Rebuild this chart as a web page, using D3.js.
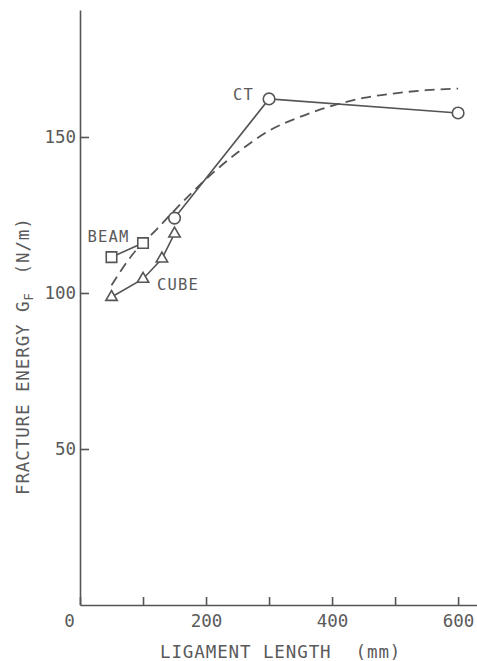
<!DOCTYPE html>
<meta charset="utf-8">
<style>
body { margin: 0; background: #fff; }
svg text { font-family: "DejaVu Sans Mono", monospace; fill: #5a5a5a; }
.axis path, .axis line { fill: none; stroke: #555; stroke-width: 1.6; }
.axis text { font-size: 17.5px; }
.series { fill: none; stroke: #555; stroke-width: 1.6; }
.fit { fill: none; stroke: #555; stroke-width: 1.8; stroke-dasharray: 10 6; }
.mark { fill: #fff; stroke: #555; stroke-width: 1.6; }
.lbl { font-size: 15.5px; letter-spacing: 1.2px; }
.title { font-size: 17.5px; letter-spacing: 0.9px; }
</style>
<body>
<script src="https://d3js.org/d3.v7.min.js"></script>
<script>

// ligament length (mm) / fracture energy GF (N/m)
var beamLength = [50, 100];
var beamGf = [111.5, 116];
var cubeLength = [50, 100, 130, 150];
var cubeGf = [98.7, 104.5, 111, 119];
var ctLength = [150, 300, 600];
var ctGf = [124, 162.2, 157.7];
// dashed curve
var fitLength = [50, 84, 122, 150, 200, 250, 300, 350, 400, 450, 500, 550, 600];
var fitGf = [102.5, 112.5, 120.5, 126.5, 136.5, 145, 152, 156.5, 160, 162.5, 164, 165, 165.5];

var xTicks = [0, 100, 200, 300, 400, 500, 600];
var xLabels = ["0", "", "200", "", "400", "", "600"];
var yTicks = [50, 100, 150];
var yLabels = ["50", "100", "150"];

var width = 477, height = 661;

var svg = d3.select("body").append("svg")
    .attr("width", width)
    .attr("height", height);

var x = d3.scaleLinear().domain([0, 630]).range([80, 477]);
var y = d3.scaleLinear().domain([0, 190.7]).range([605, 10]);

function pts(xs, ys) {
    return xs.map(function(d, i) { return [d, ys[i]]; });
}

var line = d3.line()
    .x(function(d) { return x(d[0]); })
    .y(function(d) { return y(d[1]); });

var curve = d3.line()
    .x(function(d) { return x(d[0]); })
    .y(function(d) { return y(d[1]); })
    .curve(d3.curveMonotoneX);

// axes
var xAxis = d3.axisBottom(x)
    .tickValues(xTicks)
    .tickSizeInner(-8)
    .tickSizeOuter(0)
    .tickPadding(10)
    .tickFormat(function(d, i) { return xLabels[i]; });

var gx = svg.append("g")
    .attr("class", "axis")
    .attr("transform", "translate(0," + y(0) + ")")
    .call(xAxis);
gx.selectAll(".tick text").attr("x", function(d) { return d === 0 ? -11 : 0; });

var yAxis = d3.axisLeft(y)
    .tickValues(yTicks)
    .tickSizeInner(-9)
    .tickSizeOuter(0)
    .tickPadding(4)
    .tickFormat(function(d, i) { return yLabels[i]; });

svg.append("g")
    .attr("class", "axis")
    .attr("transform", "translate(" + x(0) + ",0)")
    .call(yAxis);

svg.selectAll(".axis .domain").attr("stroke", "#555");

// dashed curve
svg.append("path")
    .attr("class", "fit")
    .attr("d", curve(pts(fitLength, fitGf)));

// series lines
var beam = pts(beamLength, beamGf);
var cube = pts(cubeLength, cubeGf);
var ct = pts(ctLength, ctGf);

[beam, cube, ct].forEach(function(s) {
    svg.append("path").attr("class", "series").attr("d", line(s));
});

// markers
function marks(data, type, size) {
    svg.append("g").selectAll("path")
        .data(data)
        .enter().append("path")
        .attr("class", "mark")
        .attr("transform", function(d) { return "translate(" + x(d[0]) + "," + y(d[1]) + ")"; })
        .attr("d", d3.symbol().type(type).size(size));
}
marks(ct, d3.symbolCircle, 105);
marks(beam, d3.symbolSquare, 110);
marks(cube, d3.symbolTriangle, 56);

// series labels
svg.append("text").attr("class", "lbl")
    .attr("x", x(beam[0][0]) - 24).attr("y", y(beam[0][1]) - 15)
    .text("BEAM");
svg.append("text").attr("class", "lbl")
    .attr("x", x(cube[1][0]) + 14).attr("y", y(cube[1][1]) + 11)
    .text("CUBE");
svg.append("text").attr("class", "lbl")
    .attr("text-anchor", "end")
    .attr("x", x(ct[1][0]) - 15).attr("y", y(ct[1][1]) + 1)
    .text("CT");

// axis titles
var xt = svg.append("text").attr("class", "title")
    .attr("x", 160).attr("y", 658);
xt.append("tspan").text("LIGAMENT LENGTH");
xt.append("tspan").attr("dx", 24).text("(mm)");

var yt = svg.append("text").attr("class", "title")
    .attr("transform", "translate(29,495) rotate(-90)");
yt.append("tspan").text("FRACTURE ENERGY G");
yt.append("tspan").attr("dy", 4).style("font-size", "12px").text("F");
yt.append("tspan").attr("dy", -4).attr("dx", 18).text("(N/m)");

</script>
</body>
